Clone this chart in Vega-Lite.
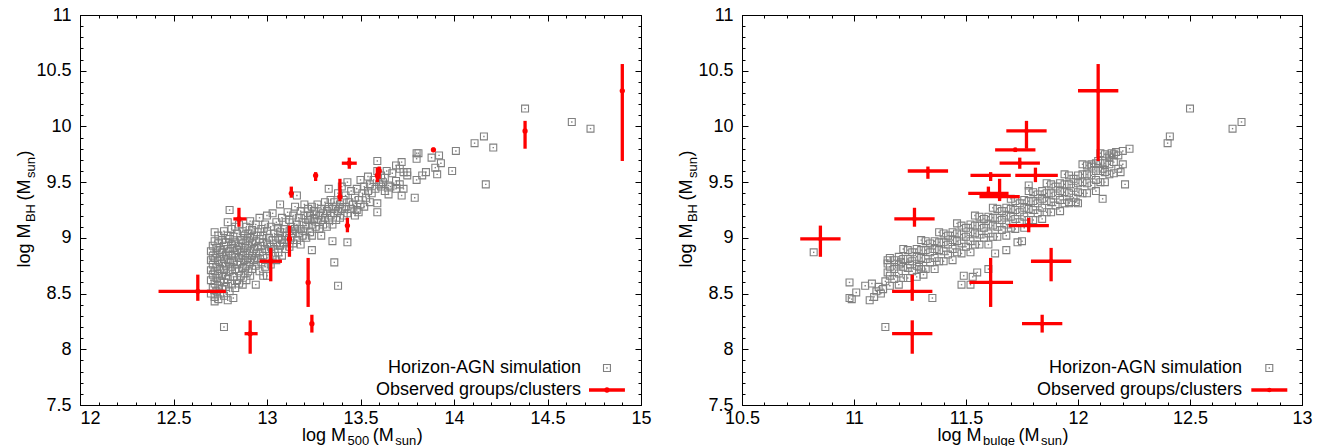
{
"$schema": "https://vega.github.io/schema/vega-lite/v6.json",
"background": "white",
"padding": {"left": 15, "top": 5, "right": 0, "bottom": 0},
"config": {
 "font": "Liberation Sans",
 "view": {"stroke": "black", "strokeWidth": 1},
 "axis": {"domainColor": "black", "domainWidth": 1, "tickColor": "black", "tickWidth": 1, "labelColor": "black", "labelFont": "Liberation Sans", "labelFontSize": 18, "grid": false, "labelFlush": false, "labelOverlap": false},
 "text": {"font": "Liberation Sans", "color": "black"}
},
"datasets": {
 "obs": [
  {"bh": 8.52, "bhlo": 8.435, "bhhi": 8.67, "m500": 12.63, "m500lo": 12.42, "m500hi": 12.78, "mb": 11.26, "mblo": 11.17, "mbhi": 11.35},
  {"bh": 9.17, "bhlo": 9.10, "bhhi": 9.27, "m500": 12.85, "m500lo": 12.82, "m500hi": 12.89, "mb": 11.27, "mblo": 11.18, "mbhi": 11.36},
  {"bh": 8.14, "bhlo": 7.96, "bhhi": 8.26, "m500": 12.91, "m500lo": 12.88, "m500hi": 12.95, "mb": 11.26, "mblo": 11.17, "mbhi": 11.35},
  {"bh": 8.79, "bhlo": 8.61, "bhhi": 8.91, "m500": 13.02, "m500lo": 12.96, "m500hi": 13.08, "mb": 11.88, "mblo": 11.79, "mbhi": 11.97},
  {"bh": 8.99, "bhlo": 8.83, "bhhi": 9.11, "m500": 13.12, "m500lo": 13.11, "m500hi": 13.13, "mb": 10.85, "mblo": 10.76, "mbhi": 10.94},
  {"bh": 9.40, "bhlo": 9.36, "bhhi": 9.46, "m500": 13.13, "m500lo": 13.125, "m500hi": 13.135, "mb": 11.60, "mblo": 11.51, "mbhi": 11.69},
  {"bh": 8.60, "bhlo": 8.38, "bhhi": 8.82, "m500": 13.22, "m500lo": 13.215, "m500hi": 13.225, "mb": 11.61, "mblo": 11.515, "mbhi": 11.71},
  {"bh": 8.23, "bhlo": 8.15, "bhhi": 8.31, "m500": 13.24, "m500lo": 13.235, "m500hi": 13.245, "mb": 11.84, "mblo": 11.75, "mbhi": 11.93},
  {"bh": 9.56, "bhlo": 9.51, "bhhi": 9.59, "m500": 13.26, "m500lo": 13.255, "m500hi": 13.265, "mb": 11.61, "mblo": 11.52, "mbhi": 11.70},
  {"bh": 9.37, "bhlo": 9.33, "bhhi": 9.53, "m500": 13.39, "m500lo": 13.385, "m500hi": 13.395, "mb": 11.65, "mblo": 11.56, "mbhi": 11.74},
  {"bh": 9.67, "bhlo": 9.62, "bhhi": 9.72, "m500": 13.44, "m500lo": 13.40, "m500hi": 13.48, "mb": 11.74, "mblo": 11.65, "mbhi": 11.83},
  {"bh": 9.11, "bhlo": 9.05, "bhhi": 9.18, "m500": 13.43, "m500lo": 13.42, "m500hi": 13.44, "mb": 11.78, "mblo": 11.69, "mbhi": 11.87},
  {"bh": 9.60, "bhlo": 9.53, "bhhi": 9.64, "m500": 13.60, "m500lo": 13.59, "m500hi": 13.61, "mb": 11.33, "mblo": 11.24, "mbhi": 11.42},
  {"bh": 9.56, "bhlo": 9.50, "bhhi": 9.63, "m500": 13.59, "m500lo": 13.58, "m500hi": 13.60, "mb": 11.81, "mblo": 11.72, "mbhi": 11.91},
  {"bh": 9.79, "bhlo": 9.77, "bhhi": 9.81, "m500": 13.89, "m500lo": 13.885, "m500hi": 13.895, "mb": 11.72, "mblo": 11.63, "mbhi": 11.81},
  {"bh": 9.96, "bhlo": 9.80, "bhhi": 10.05, "m500": 14.38, "m500lo": 14.375, "m500hi": 14.385, "mb": 11.77, "mblo": 11.68, "mbhi": 11.86},
  {"bh": 10.32, "bhlo": 9.69, "bhhi": 10.56, "m500": 14.90, "m500lo": 14.895, "m500hi": 14.905, "mb": 12.09, "mblo": 12.00, "mbhi": 12.18}
 ],
 "simL": [
  {"x":12.70,"y":8.50},{"x":12.70,"y":8.62},{"x":12.70,"y":8.71},{"x":12.70,"y":8.80},{"x":12.70,"y":8.88},
  {"x":12.71,"y":8.55},{"x":12.71,"y":8.67},{"x":12.71,"y":8.76},{"x":12.71,"y":8.84},{"x":12.71,"y":8.93},
  {"x":12.72,"y":8.47},{"x":12.72,"y":8.59},{"x":12.72,"y":8.70},{"x":12.72,"y":8.82},{"x":12.72,"y":8.97},{"x":12.72,"y":9.05},{"x":12.72,"y":8.43},
  {"x":12.73,"y":8.52},{"x":12.73,"y":8.64},{"x":12.73,"y":8.74},{"x":12.73,"y":8.86},{"x":12.73,"y":8.91},
  {"x":12.74,"y":8.45},{"x":12.74,"y":8.57},{"x":12.74,"y":8.68},{"x":12.74,"y":8.79},{"x":12.74,"y":8.95},{"x":12.74,"y":9.02},
  {"x":12.75,"y":8.50},{"x":12.75,"y":8.61},{"x":12.75,"y":8.72},{"x":12.75,"y":8.83},{"x":12.75,"y":8.89},
  {"x":12.76,"y":8.54},{"x":12.76,"y":8.66},{"x":12.76,"y":8.77},{"x":12.76,"y":8.87},{"x":12.76,"y":8.98},
  {"x":12.77,"y":8.48},{"x":12.77,"y":8.60},{"x":12.77,"y":8.71},{"x":12.77,"y":8.81},{"x":12.77,"y":8.93},{"x":12.77,"y":9.06},{"x":12.77,"y":8.20},
  {"x":12.78,"y":8.56},{"x":12.78,"y":8.66},{"x":12.78,"y":8.75},{"x":12.78,"y":8.85},{"x":12.78,"y":8.96},
  {"x":12.79,"y":8.44},{"x":12.79,"y":8.63},{"x":12.79,"y":8.80},{"x":12.79,"y":8.90},{"x":12.79,"y":9.02},{"x":12.79,"y":9.14},
  {"x":12.80,"y":8.52},{"x":12.80,"y":8.70},{"x":12.80,"y":8.78},{"x":12.80,"y":8.88},{"x":12.80,"y":8.99},{"x":12.80,"y":9.25},
  {"x":12.81,"y":8.59},{"x":12.81,"y":8.74},{"x":12.81,"y":8.84},{"x":12.81,"y":8.94},{"x":12.81,"y":9.08},
  {"x":12.82,"y":8.46},{"x":12.82,"y":8.65},{"x":12.82,"y":8.79},{"x":12.82,"y":8.91},{"x":12.82,"y":9.01},
  {"x":12.83,"y":8.55},{"x":12.83,"y":8.72},{"x":12.83,"y":8.86},{"x":12.83,"y":8.96},{"x":12.83,"y":9.10},
  {"x":12.84,"y":8.62},{"x":12.84,"y":8.76},{"x":12.84,"y":8.89},{"x":12.84,"y":9.04},
  {"x":12.85,"y":8.59},{"x":12.85,"y":8.70},{"x":12.85,"y":8.82},{"x":12.85,"y":8.93},{"x":12.85,"y":9.12},
  {"x":12.86,"y":8.66},{"x":12.86,"y":8.78},{"x":12.86,"y":8.87},{"x":12.86,"y":8.98},
  {"x":12.87,"y":8.58},{"x":12.87,"y":8.73},{"x":12.87,"y":8.84},{"x":12.87,"y":8.95},{"x":12.87,"y":9.06},
  {"x":12.88,"y":8.68},{"x":12.88,"y":8.80},{"x":12.88,"y":8.91},{"x":12.88,"y":9.02},
  {"x":12.89,"y":8.62},{"x":12.89,"y":8.75},{"x":12.89,"y":8.86},{"x":12.89,"y":8.97},{"x":12.89,"y":9.10},
  {"x":12.90,"y":8.70},{"x":12.90,"y":8.82},{"x":12.90,"y":8.93},{"x":12.90,"y":9.04},
  {"x":12.91,"y":8.66},{"x":12.91,"y":8.78},{"x":12.91,"y":8.88},{"x":12.91,"y":9.00},{"x":12.91,"y":9.15},
  {"x":12.92,"y":8.72},{"x":12.92,"y":8.84},{"x":12.92,"y":8.95},{"x":12.92,"y":9.07},
  {"x":12.93,"y":8.80},{"x":12.93,"y":8.90},{"x":12.93,"y":9.02},
  {"x":12.94,"y":8.58},{"x":12.94,"y":8.75},{"x":12.94,"y":8.86},{"x":12.94,"y":8.97},{"x":12.94,"y":9.12},
  {"x":12.95,"y":8.82},{"x":12.95,"y":8.92},{"x":12.95,"y":9.05},
  {"x":12.96,"y":8.70},{"x":12.96,"y":8.87},{"x":12.96,"y":8.99},{"x":12.96,"y":9.18},
  {"x":12.97,"y":8.78},{"x":12.97,"y":8.93},{"x":12.97,"y":9.08},
  {"x":12.98,"y":8.66},{"x":12.98,"y":8.84},{"x":12.98,"y":8.96},{"x":12.98,"y":9.02},
  {"x":12.99,"y":8.74},{"x":12.99,"y":8.90},{"x":12.99,"y":9.12},
  {"x":13.00,"y":8.66},{"x":13.00,"y":8.82},{"x":13.00,"y":8.95},{"x":13.00,"y":9.06},{"x":13.00,"y":9.20},
  {"x":13.01,"y":8.88},{"x":13.01,"y":9.00},
  {"x":13.02,"y":8.76},{"x":13.02,"y":8.92},{"x":13.02,"y":9.10},
  {"x":13.03,"y":8.84},{"x":13.03,"y":8.98},{"x":13.03,"y":9.22},
  {"x":13.04,"y":8.90},{"x":13.04,"y":9.04},
  {"x":13.05,"y":8.80},{"x":13.05,"y":8.95},{"x":13.05,"y":9.14},
  {"x":13.06,"y":8.87},{"x":13.06,"y":9.00},{"x":13.06,"y":9.09},
  {"x":13.07,"y":8.93},{"x":13.07,"y":9.05},{"x":13.07,"y":9.30},
  {"x":13.08,"y":8.84},{"x":13.08,"y":8.98},{"x":13.08,"y":9.18},
  {"x":13.09,"y":8.95},{"x":13.09,"y":9.08},
  {"x":13.10,"y":8.90},{"x":13.10,"y":9.02},{"x":13.10,"y":9.14},
  {"x":13.11,"y":8.98},{"x":13.11,"y":9.23},
  {"x":13.12,"y":8.92},{"x":13.12,"y":9.06},{"x":13.12,"y":9.16},
  {"x":13.13,"y":9.00},{"x":13.13,"y":9.10},
  {"x":13.14,"y":8.95},{"x":13.14,"y":9.04},{"x":13.14,"y":9.20},
  {"x":13.15,"y":9.08},{"x":13.15,"y":9.28},
  {"x":13.16,"y":8.98},{"x":13.16,"y":9.12},{"x":13.16,"y":9.38},
  {"x":13.17,"y":9.04},{"x":13.17,"y":9.18},
  {"x":13.18,"y":8.94},{"x":13.18,"y":9.08},{"x":13.18,"y":9.24},
  {"x":13.19,"y":9.02},{"x":13.19,"y":9.14},
  {"x":13.20,"y":9.06},{"x":13.20,"y":9.20},{"x":13.20,"y":9.30},
  {"x":13.21,"y":9.00},{"x":13.21,"y":9.11},
  {"x":13.22,"y":9.16},{"x":13.22,"y":9.26},
  {"x":13.23,"y":9.05},{"x":13.23,"y":9.20},
  {"x":13.24,"y":8.89},{"x":13.24,"y":9.02},{"x":13.24,"y":9.12},{"x":13.24,"y":9.28},
  {"x":13.25,"y":9.17},{"x":13.25,"y":9.24},
  {"x":13.26,"y":9.10},{"x":13.26,"y":9.21},
  {"x":13.27,"y":9.14},{"x":13.27,"y":9.30},
  {"x":13.28,"y":9.08},{"x":13.28,"y":9.20},
  {"x":13.29,"y":9.02},{"x":13.29,"y":9.16},{"x":13.29,"y":9.26},
  {"x":13.30,"y":9.12},{"x":13.30,"y":9.22},
  {"x":13.31,"y":9.18},{"x":13.31,"y":9.32},
  {"x":13.32,"y":9.10},{"x":13.32,"y":9.24},
  {"x":13.33,"y":9.16},{"x":13.33,"y":9.28},{"x":13.33,"y":9.44},
  {"x":13.34,"y":9.20},{"x":13.34,"y":9.34},
  {"x":13.35,"y":8.97},{"x":13.35,"y":9.12},{"x":13.35,"y":9.26},
  {"x":13.36,"y":8.78},{"x":13.36,"y":9.22},{"x":13.36,"y":9.32},
  {"x":13.37,"y":9.16},{"x":13.37,"y":9.28},
  {"x":13.38,"y":8.57},{"x":13.38,"y":9.24},{"x":13.38,"y":9.40},
  {"x":13.39,"y":9.18},{"x":13.39,"y":9.30},
  {"x":13.40,"y":9.26},{"x":13.40,"y":9.46},
  {"x":13.41,"y":9.20},{"x":13.41,"y":9.34},
  {"x":13.42,"y":9.28},{"x":13.42,"y":9.38},
  {"x":13.43,"y":8.96},{"x":13.43,"y":9.22},{"x":13.43,"y":9.50},
  {"x":13.44,"y":9.32},
  {"x":13.45,"y":9.26},{"x":13.45,"y":9.42},
  {"x":13.46,"y":9.30},
  {"x":13.47,"y":9.20},{"x":13.47,"y":9.36},
  {"x":13.48,"y":9.25},{"x":13.48,"y":9.44},
  {"x":13.49,"y":9.23},{"x":13.49,"y":9.34},
  {"x":13.50,"y":9.30},{"x":13.50,"y":9.52},
  {"x":13.51,"y":9.40},
  {"x":13.52,"y":9.28},{"x":13.52,"y":9.46},
  {"x":13.53,"y":9.36},
  {"x":13.54,"y":9.42},{"x":13.54,"y":9.55},
  {"x":13.55,"y":9.32},{"x":13.55,"y":9.48},
  {"x":13.56,"y":9.40},
  {"x":13.57,"y":9.52},
  {"x":13.58,"y":9.44},
  {"x":13.59,"y":9.23},{"x":13.59,"y":9.31},{"x":13.59,"y":9.69},{"x":13.59,"y":9.60},
  {"x":13.60,"y":9.48},
  {"x":13.61,"y":9.46},{"x":13.61,"y":9.56},
  {"x":13.62,"y":9.50},
  {"x":13.63,"y":9.42},{"x":13.63,"y":9.54},
  {"x":13.64,"y":9.60},
  {"x":13.65,"y":9.39},{"x":13.65,"y":9.47},
  {"x":13.66,"y":9.46},
  {"x":13.67,"y":9.58},
  {"x":13.69,"y":9.44},{"x":13.69,"y":9.51},{"x":13.69,"y":9.65},
  {"x":13.71,"y":9.48},{"x":13.71,"y":9.62},
  {"x":13.72,"y":9.38},{"x":13.72,"y":9.68},
  {"x":13.73,"y":9.44},{"x":13.73,"y":9.59},
  {"x":13.75,"y":9.56},{"x":13.75,"y":9.59},
  {"x":13.79,"y":9.36},
  {"x":13.80,"y":9.52},{"x":13.80,"y":9.71},{"x":13.80,"y":9.76},
  {"x":13.81,"y":9.76},
  {"x":13.83,"y":9.56},
  {"x":13.85,"y":9.59},
  {"x":13.88,"y":9.72},
  {"x":13.90,"y":9.63},
  {"x":13.91,"y":9.57},
  {"x":13.92,"y":9.74},
  {"x":13.93,"y":9.67},
  {"x":13.99,"y":9.60},
  {"x":14.01,"y":9.78},
  {"x":14.11,"y":9.85},
  {"x":14.16,"y":9.91},
  {"x":14.17,"y":9.48},
  {"x":14.21,"y":9.81},
  {"x":14.38,"y":10.16},
  {"x":14.63,"y":10.04},
  {"x":14.73,"y":9.98}
 ],
 "simR": [
  {"x":10.82,"y":8.87},{"x":10.98,"y":8.60},{"x":10.98,"y":8.46},{"x":10.99,"y":8.45},{"x":11.01,"y":8.51},{"x":11.05,"y":8.57},{"x":11.07,"y":8.44},{"x":11.08,"y":8.59},{"x":11.09,"y":8.47},{"x":11.11,"y":8.56},{"x":11.13,"y":8.54},{"x":11.14,"y":8.20},{"x":11.15,"y":8.80},{"x":11.15,"y":8.77},{"x":11.15,"y":8.69},{"x":11.14,"y":8.61},{"x":11.12,"y":8.50},{"x":11.10,"y":8.52},
  {"x":11.16,"y":8.57},{"x":11.16,"y":8.66},{"x":11.16,"y":8.74},{"x":11.16,"y":8.82},
  {"x":11.18,"y":8.63},{"x":11.18,"y":8.72},{"x":11.18,"y":8.80},
  {"x":11.20,"y":8.58},{"x":11.20,"y":8.68},{"x":11.20,"y":8.76},{"x":11.20,"y":8.83},
  {"x":11.22,"y":8.64},{"x":11.22,"y":8.74},{"x":11.22,"y":8.81},{"x":11.22,"y":8.90},
  {"x":11.24,"y":8.64},{"x":11.24,"y":8.73},{"x":11.24,"y":8.81},{"x":11.24,"y":8.89},
  {"x":11.26,"y":8.70},{"x":11.26,"y":8.79},{"x":11.26,"y":8.87},
  {"x":11.28,"y":8.65},{"x":11.28,"y":8.75},{"x":11.28,"y":8.83},{"x":11.28,"y":8.90},
  {"x":11.30,"y":8.72},{"x":11.30,"y":8.82},{"x":11.30,"y":8.89},{"x":11.30,"y":8.98},
  {"x":11.32,"y":8.72},{"x":11.32,"y":8.81},{"x":11.32,"y":8.89},{"x":11.32,"y":8.97},
  {"x":11.34,"y":8.78},{"x":11.34,"y":8.87},{"x":11.34,"y":8.95},
  {"x":11.36,"y":8.72},{"x":11.36,"y":8.82},{"x":11.36,"y":8.90},{"x":11.36,"y":8.97},
  {"x":11.38,"y":8.79},{"x":11.38,"y":8.89},{"x":11.38,"y":8.96},{"x":11.38,"y":9.05},
  {"x":11.40,"y":8.79},{"x":11.40,"y":8.88},{"x":11.40,"y":8.96},{"x":11.40,"y":9.04},
  {"x":11.42,"y":8.85},{"x":11.42,"y":8.94},{"x":11.42,"y":9.02},
  {"x":11.44,"y":8.80},{"x":11.44,"y":8.90},{"x":11.44,"y":8.98},{"x":11.44,"y":9.05},
  {"x":11.46,"y":8.87},{"x":11.46,"y":8.97},{"x":11.46,"y":9.04},{"x":11.46,"y":9.13},
  {"x":11.48,"y":8.86},{"x":11.48,"y":8.95},{"x":11.48,"y":9.03},{"x":11.48,"y":9.11},
  {"x":11.50,"y":8.92},{"x":11.50,"y":9.01},{"x":11.50,"y":9.09},
  {"x":11.52,"y":8.87},{"x":11.52,"y":8.97},{"x":11.52,"y":9.05},{"x":11.52,"y":9.12},
  {"x":11.54,"y":8.94},{"x":11.54,"y":9.04},{"x":11.54,"y":9.11},{"x":11.54,"y":9.20},
  {"x":11.56,"y":8.94},{"x":11.56,"y":9.03},{"x":11.56,"y":9.11},{"x":11.56,"y":9.19},
  {"x":11.58,"y":9.00},{"x":11.58,"y":9.09},{"x":11.58,"y":9.17},
  {"x":11.60,"y":8.94},{"x":11.60,"y":9.04},{"x":11.60,"y":9.12},{"x":11.60,"y":9.19},
  {"x":11.62,"y":9.01},{"x":11.62,"y":9.11},{"x":11.62,"y":9.18},{"x":11.62,"y":9.27},
  {"x":11.64,"y":9.01},{"x":11.64,"y":9.10},{"x":11.64,"y":9.18},{"x":11.64,"y":9.26},
  {"x":11.66,"y":9.07},{"x":11.66,"y":9.16},{"x":11.66,"y":9.24},
  {"x":11.68,"y":9.02},{"x":11.68,"y":9.12},{"x":11.68,"y":9.20},{"x":11.68,"y":9.27},
  {"x":11.70,"y":9.09},{"x":11.70,"y":9.19},{"x":11.70,"y":9.26},{"x":11.70,"y":9.35},
  {"x":11.72,"y":9.08},{"x":11.72,"y":9.17},{"x":11.72,"y":9.25},{"x":11.72,"y":9.33},
  {"x":11.74,"y":9.14},{"x":11.74,"y":9.23},{"x":11.74,"y":9.31},
  {"x":11.76,"y":9.09},{"x":11.76,"y":9.19},{"x":11.76,"y":9.27},{"x":11.76,"y":9.34},
  {"x":11.78,"y":9.16},{"x":11.78,"y":9.26},{"x":11.78,"y":9.33},{"x":11.78,"y":9.42},
  {"x":11.80,"y":9.16},{"x":11.80,"y":9.25},{"x":11.80,"y":9.33},{"x":11.80,"y":9.41},
  {"x":11.82,"y":9.22},{"x":11.82,"y":9.31},{"x":11.82,"y":9.39},
  {"x":11.84,"y":9.17},{"x":11.84,"y":9.27},{"x":11.84,"y":9.35},{"x":11.84,"y":9.42},
  {"x":11.86,"y":9.23},{"x":11.86,"y":9.33},{"x":11.86,"y":9.40},{"x":11.86,"y":9.49},
  {"x":11.88,"y":9.23},{"x":11.88,"y":9.32},{"x":11.88,"y":9.40},{"x":11.88,"y":9.48},
  {"x":11.90,"y":9.29},{"x":11.90,"y":9.38},{"x":11.90,"y":9.46},
  {"x":11.92,"y":9.24},{"x":11.92,"y":9.34},{"x":11.92,"y":9.42},{"x":11.92,"y":9.49},
  {"x":11.94,"y":9.31},{"x":11.94,"y":9.41},{"x":11.94,"y":9.48},{"x":11.94,"y":9.57},
  {"x":11.96,"y":9.31},{"x":11.96,"y":9.40},{"x":11.96,"y":9.48},{"x":11.96,"y":9.56},
  {"x":11.98,"y":9.36},{"x":11.98,"y":9.45},{"x":11.98,"y":9.53},
  {"x":12.00,"y":9.31},{"x":12.00,"y":9.41},{"x":12.00,"y":9.49},{"x":12.00,"y":9.56},
  {"x":12.02,"y":9.40},{"x":12.02,"y":9.50},{"x":12.02,"y":9.57},{"x":12.02,"y":9.66},
  {"x":12.04,"y":9.40},{"x":12.04,"y":9.49},{"x":12.04,"y":9.57},{"x":12.04,"y":9.65},
  {"x":12.06,"y":9.47},{"x":12.06,"y":9.56},{"x":12.06,"y":9.64},
  {"x":12.08,"y":9.42},{"x":12.08,"y":9.52},{"x":12.08,"y":9.60},{"x":12.08,"y":9.67},
  {"x":12.10,"y":9.50},{"x":12.10,"y":9.60},{"x":12.10,"y":9.67},{"x":12.10,"y":9.76},
  {"x":12.12,"y":9.50},{"x":12.12,"y":9.59},{"x":12.12,"y":9.67},{"x":12.12,"y":9.75},
  {"x":12.14,"y":9.57},{"x":12.14,"y":9.66},{"x":12.14,"y":9.74},
  {"x":12.16,"y":9.58},{"x":12.16,"y":9.68},{"x":12.16,"y":9.75},
  {"x":12.18,"y":9.62},{"x":12.18,"y":9.74},
  {"x":12.20,"y":9.66},{"x":12.20,"y":9.78},
  {"x":11.21,"y":8.78},{"x":11.25,"y":8.76},{"x":11.29,"y":8.74},{"x":11.31,"y":8.67},{"x":11.35,"y":8.46},
  {"x":11.48,"y":8.58},{"x":11.52,"y":8.58},{"x":11.49,"y":8.66},{"x":11.53,"y":8.65},{"x":11.55,"y":8.69},{"x":11.60,"y":8.72},
  {"x":11.63,"y":8.86},{"x":11.68,"y":8.89},{"x":11.73,"y":8.96},{"x":11.75,"y":8.97},{"x":11.78,"y":9.47},
  {"x":11.96,"y":9.32},{"x":11.99,"y":9.32},{"x":12.11,"y":9.35},{"x":12.15,"y":9.76},{"x":12.21,"y":9.48},{"x":12.23,"y":9.80},
  {"x":12.17,"y":9.77},{"x":12.19,"y":9.59},{"x":12.06,"y":9.66},{"x":12.09,"y":9.69},{"x":12.14,"y":9.72},{"x":12.11,"y":9.62},
  {"x":12.40,"y":9.85},{"x":12.41,"y":9.91},{"x":12.50,"y":10.16},{"x":12.69,"y":9.98},{"x":12.73,"y":10.04}
 ]
},
"spacing": 101,
"bounds": "flush",
"hconcat": [
 {
  "width": 561, "height": 390,
  "resolve": {"axis": {"x": "independent", "y": "independent"}},
  "layer": [
   {
    "data": {"name": "simL"},
    "mark": {"type": "point", "shape": "square", "filled": false, "size": 48, "strokeWidth": 1.1, "color": "#808080", "opacity": 1},
    "encoding": {
     "x": {"field": "x", "type": "quantitative", "scale": {"domain": [12, 15], "nice": false, "zero": false},
      "axis": {"orient": "bottom", "title": null, "values": [12,12.1,12.2,12.3,12.4,12.5,12.6,12.7,12.8,12.9,13,13.1,13.2,13.3,13.4,13.5,13.6,13.7,13.8,13.9,14,14.1,14.2,14.3,14.4,14.5,14.6,14.7,14.8,14.9,15],
       "labelExpr": "(abs(datum.value*2-round(datum.value*2))<0.01) ? ''+datum.value : ''",
       "labelPadding": 10,
       "labelAlign": {"condition": {"test": "datum.value == 12", "value": "left"}, "value": "center"},
       "tickSize": {"condition": {"test": "abs(datum.value*2-round(datum.value*2))<0.01", "value": -6}, "value": -3}}},
     "y": {"field": "y", "type": "quantitative", "scale": {"domain": [7.5, 11], "nice": false, "zero": false},
      "axis": {"orient": "left", "title": null, "values": [7.5,7.6,7.7,7.8,7.9,8,8.1,8.2,8.3,8.4,8.5,8.6,8.7,8.8,8.9,9,9.1,9.2,9.3,9.4,9.5,9.6,9.7,9.8,9.9,10,10.1,10.2,10.3,10.4,10.5,10.6,10.7,10.8,10.9,11],
       "labelExpr": "(abs(datum.value*2-round(datum.value*2))<0.01) ? ''+datum.value : ''",
       "labelPadding": 15,
       "tickSize": {"condition": {"test": "abs(datum.value*2-round(datum.value*2))<0.01", "value": -6}, "value": -3}}}
    }
   },
   {
    "data": {"name": "simL"},
    "mark": {"type": "square", "size": 2, "color": "#808080", "opacity": 1},
    "encoding": {"x": {"field": "x", "type": "quantitative", "axis": null}, "y": {"field": "y", "type": "quantitative", "axis": null}}
   },
   {
    "data": {"name": "obs"},
    "mark": {"type": "rule", "strokeWidth": 3.3, "color": "#ff0000"},
    "encoding": {
     "x": {"field": "m500", "type": "quantitative",
      "axis": {"orient": "top", "title": null, "labels": false, "values": [12,12.1,12.2,12.3,12.4,12.5,12.6,12.7,12.8,12.9,13,13.1,13.2,13.3,13.4,13.5,13.6,13.7,13.8,13.9,14,14.1,14.2,14.3,14.4,14.5,14.6,14.7,14.8,14.9,15],
       "tickSize": {"condition": {"test": "abs(datum.value*2-round(datum.value*2))<0.01", "value": -6}, "value": -3}}},
     "y": {"field": "bhlo", "type": "quantitative",
      "axis": {"orient": "right", "title": null, "labels": false, "values": [7.5,7.6,7.7,7.8,7.9,8,8.1,8.2,8.3,8.4,8.5,8.6,8.7,8.8,8.9,9,9.1,9.2,9.3,9.4,9.5,9.6,9.7,9.8,9.9,10,10.1,10.2,10.3,10.4,10.5,10.6,10.7,10.8,10.9,11],
       "tickSize": {"condition": {"test": "abs(datum.value*2-round(datum.value*2))<0.01", "value": -6}, "value": -3}}},
     "y2": {"field": "bhhi"}
    }
   },
   {
    "data": {"name": "obs"},
    "mark": {"type": "rule", "strokeWidth": 3.3, "color": "#ff0000"},
    "encoding": {"x": {"field": "m500lo", "type": "quantitative", "axis": null}, "x2": {"field": "m500hi"}, "y": {"field": "bh", "type": "quantitative", "axis": null}}
   },
   {
    "data": {"name": "obs"},
    "mark": {"type": "circle", "size": 28, "color": "#ff0000", "opacity": 1},
    "encoding": {"x": {"field": "m500", "type": "quantitative", "axis": null}, "y": {"field": "bh", "type": "quantitative", "axis": null}}
   },
   {"data": {"values": [{}]}, "mark": {"type": "text", "text": "Horizon-AGN simulation", "fontSize": 18, "align": "right", "baseline": "middle"}, "encoding": {"x": {"datum": 14.6791, "type": "quantitative", "axis": null}, "y": {"datum": 7.8321, "type": "quantitative", "axis": null}}},
   {"data": {"values": [{}]}, "mark": {"type": "text", "text": "Observed groups/clusters", "fontSize": 18, "align": "right", "baseline": "middle"}, "encoding": {"x": {"datum": 14.6791, "type": "quantitative", "axis": null}, "y": {"datum": 7.6347, "type": "quantitative", "axis": null}}},
   {"data": {"values": [{}]}, "mark": {"type": "point", "shape": "square", "filled": false, "size": 48, "strokeWidth": 1.1, "color": "#808080", "opacity": 1}, "encoding": {"x": {"datum": 14.818, "type": "quantitative", "axis": null}, "y": {"datum": 7.8321, "type": "quantitative", "axis": null}}},
   {"data": {"values": [{}]}, "mark": {"type": "square", "size": 2, "color": "#808080", "opacity": 1}, "encoding": {"x": {"datum": 14.818, "type": "quantitative", "axis": null}, "y": {"datum": 7.8321, "type": "quantitative", "axis": null}}},
   {"data": {"values": [{}]}, "mark": {"type": "rule", "strokeWidth": 3.3, "color": "#ff0000"}, "encoding": {"x": {"datum": 14.722, "type": "quantitative", "axis": null}, "x2": {"datum": 14.914}, "y": {"datum": 7.6347, "type": "quantitative", "axis": null}}},
   {"data": {"values": [{}]}, "mark": {"type": "circle", "size": 28, "color": "#ff0000", "opacity": 1}, "encoding": {"x": {"datum": 14.818, "type": "quantitative", "axis": null}, "y": {"datum": 7.6347, "type": "quantitative", "axis": null}}},
   {"data": {"values": [{}]}, "mark": {"type": "text", "text": "log M", "fontSize": 18, "align": "left", "baseline": "alphabetic", "yOffset": 36}, "encoding": {"x": {"datum": 13.1877, "type": "quantitative", "axis": null}, "y": {"datum": 7.5, "type": "quantitative", "axis": null}}},
   {"data": {"values": [{}]}, "mark": {"type": "text", "text": "500", "fontSize": 13, "align": "left", "baseline": "alphabetic", "yOffset": 40}, "encoding": {"x": {"datum": 13.431, "type": "quantitative", "axis": null}, "y": {"datum": 7.5, "type": "quantitative", "axis": null}}},
   {"data": {"values": [{}]}, "mark": {"type": "text", "text": "(M", "fontSize": 18, "align": "left", "baseline": "alphabetic", "yOffset": 36}, "encoding": {"x": {"datum": 13.5658, "type": "quantitative", "axis": null}, "y": {"datum": 7.5, "type": "quantitative", "axis": null}}},
   {"data": {"values": [{}]}, "mark": {"type": "text", "text": "sun", "fontSize": 13, "align": "left", "baseline": "alphabetic", "yOffset": 40}, "encoding": {"x": {"datum": 13.6861, "type": "quantitative", "axis": null}, "y": {"datum": 7.5, "type": "quantitative", "axis": null}}},
   {"data": {"values": [{}]}, "mark": {"type": "text", "text": ")", "fontSize": 18, "align": "left", "baseline": "alphabetic", "yOffset": 36}, "encoding": {"x": {"datum": 13.801, "type": "quantitative", "axis": null}, "y": {"datum": 7.5, "type": "quantitative", "axis": null}}},
   {"data": {"values": [{}]}, "mark": {"type": "text", "text": "log M", "fontSize": 18, "angle": 270, "align": "left", "baseline": "alphabetic", "xOffset": -50}, "encoding": {"x": {"datum": 12, "type": "quantitative", "axis": null}, "y": {"datum": 8.7331, "type": "quantitative", "axis": null}}},
   {"data": {"values": [{}]}, "mark": {"type": "text", "text": "BH", "fontSize": 13, "angle": 270, "align": "left", "baseline": "alphabetic", "xOffset": -45}, "encoding": {"x": {"datum": 12, "type": "quantitative", "axis": null}, "y": {"datum": 9.1415, "type": "quantitative", "axis": null}}},
   {"data": {"values": [{}]}, "mark": {"type": "text", "text": "(M", "fontSize": 18, "angle": 270, "align": "left", "baseline": "alphabetic", "xOffset": -50}, "encoding": {"x": {"datum": 12, "type": "quantitative", "axis": null}, "y": {"datum": 9.3353, "type": "quantitative", "axis": null}}},
   {"data": {"values": [{}]}, "mark": {"type": "text", "text": "sun", "fontSize": 13, "angle": 270, "align": "left", "baseline": "alphabetic", "xOffset": -45}, "encoding": {"x": {"datum": 12, "type": "quantitative", "axis": null}, "y": {"datum": 9.5372, "type": "quantitative", "axis": null}}},
   {"data": {"values": [{}]}, "mark": {"type": "text", "text": ")", "fontSize": 18, "angle": 270, "align": "left", "baseline": "alphabetic", "xOffset": -50}, "encoding": {"x": {"datum": 12, "type": "quantitative", "axis": null}, "y": {"datum": 9.7302, "type": "quantitative", "axis": null}}}
  ]
 },
 {
  "width": 560, "height": 390,
  "resolve": {"axis": {"x": "independent", "y": "independent"}},
  "layer": [
   {
    "data": {"name": "simR"},
    "mark": {"type": "point", "shape": "square", "filled": false, "size": 48, "strokeWidth": 1.1, "color": "#808080", "opacity": 1},
    "encoding": {
     "x": {"field": "x", "type": "quantitative", "scale": {"domain": [10.5, 13], "nice": false, "zero": false},
      "axis": {"orient": "bottom", "title": null, "values": [10.5,10.6,10.7,10.8,10.9,11,11.1,11.2,11.3,11.4,11.5,11.6,11.7,11.8,11.9,12,12.1,12.2,12.3,12.4,12.5,12.6,12.7,12.8,12.9,13],
       "labelExpr": "(abs(datum.value*2-round(datum.value*2))<0.01) ? ''+datum.value : ''",
       "labelPadding": 10,
       "tickSize": {"condition": {"test": "abs(datum.value*2-round(datum.value*2))<0.01", "value": -6}, "value": -3}}},
     "y": {"field": "y", "type": "quantitative", "scale": {"domain": [7.5, 11], "nice": false, "zero": false},
      "axis": {"orient": "left", "title": null, "values": [7.5,7.6,7.7,7.8,7.9,8,8.1,8.2,8.3,8.4,8.5,8.6,8.7,8.8,8.9,9,9.1,9.2,9.3,9.4,9.5,9.6,9.7,9.8,9.9,10,10.1,10.2,10.3,10.4,10.5,10.6,10.7,10.8,10.9,11],
       "labelExpr": "(abs(datum.value*2-round(datum.value*2))<0.01) ? ''+datum.value : ''",
       "labelPadding": 15,
       "tickSize": {"condition": {"test": "abs(datum.value*2-round(datum.value*2))<0.01", "value": -6}, "value": -3}}}
    }
   },
   {
    "data": {"name": "simR"},
    "mark": {"type": "square", "size": 2, "color": "#808080", "opacity": 1},
    "encoding": {"x": {"field": "x", "type": "quantitative", "axis": null}, "y": {"field": "y", "type": "quantitative", "axis": null}}
   },
   {
    "data": {"name": "obs"},
    "mark": {"type": "rule", "strokeWidth": 3.3, "color": "#ff0000"},
    "encoding": {
     "x": {"field": "mb", "type": "quantitative",
      "axis": {"orient": "top", "title": null, "labels": false, "values": [10.5,10.6,10.7,10.8,10.9,11,11.1,11.2,11.3,11.4,11.5,11.6,11.7,11.8,11.9,12,12.1,12.2,12.3,12.4,12.5,12.6,12.7,12.8,12.9,13],
       "tickSize": {"condition": {"test": "abs(datum.value*2-round(datum.value*2))<0.01", "value": -6}, "value": -3}}},
     "y": {"field": "bhlo", "type": "quantitative",
      "axis": {"orient": "right", "title": null, "labels": false, "values": [7.5,7.6,7.7,7.8,7.9,8,8.1,8.2,8.3,8.4,8.5,8.6,8.7,8.8,8.9,9,9.1,9.2,9.3,9.4,9.5,9.6,9.7,9.8,9.9,10,10.1,10.2,10.3,10.4,10.5,10.6,10.7,10.8,10.9,11],
       "tickSize": {"condition": {"test": "abs(datum.value*2-round(datum.value*2))<0.01", "value": -6}, "value": -3}}},
     "y2": {"field": "bhhi"}
    }
   },
   {
    "data": {"name": "obs"},
    "mark": {"type": "rule", "strokeWidth": 3.3, "color": "#ff0000"},
    "encoding": {"x": {"field": "mblo", "type": "quantitative", "axis": null}, "x2": {"field": "mbhi"}, "y": {"field": "bh", "type": "quantitative", "axis": null}}
   },
   {
    "data": {"name": "obs"},
    "mark": {"type": "circle", "size": 20, "color": "#ff0000", "opacity": 1},
    "encoding": {"x": {"field": "mb", "type": "quantitative", "axis": null}, "y": {"field": "bh", "type": "quantitative", "axis": null}}
   },
   {"data": {"values": [{}]}, "mark": {"type": "text", "text": "Horizon-AGN simulation", "fontSize": 18, "align": "right", "baseline": "middle"}, "encoding": {"x": {"datum": 12.7321, "type": "quantitative", "axis": null}, "y": {"datum": 7.8321, "type": "quantitative", "axis": null}}},
   {"data": {"values": [{}]}, "mark": {"type": "text", "text": "Observed groups/clusters", "fontSize": 18, "align": "right", "baseline": "middle"}, "encoding": {"x": {"datum": 12.7321, "type": "quantitative", "axis": null}, "y": {"datum": 7.6347, "type": "quantitative", "axis": null}}},
   {"data": {"values": [{}]}, "mark": {"type": "point", "shape": "square", "filled": false, "size": 48, "strokeWidth": 1.1, "color": "#808080", "opacity": 1}, "encoding": {"x": {"datum": 12.854, "type": "quantitative", "axis": null}, "y": {"datum": 7.8321, "type": "quantitative", "axis": null}}},
   {"data": {"values": [{}]}, "mark": {"type": "square", "size": 2, "color": "#808080", "opacity": 1}, "encoding": {"x": {"datum": 12.854, "type": "quantitative", "axis": null}, "y": {"datum": 7.8321, "type": "quantitative", "axis": null}}},
   {"data": {"values": [{}]}, "mark": {"type": "rule", "strokeWidth": 3.3, "color": "#ff0000"}, "encoding": {"x": {"datum": 12.7737, "type": "quantitative", "axis": null}, "x2": {"datum": 12.9344}, "y": {"datum": 7.6347, "type": "quantitative", "axis": null}}},
   {"data": {"values": [{}]}, "mark": {"type": "circle", "size": 20, "color": "#ff0000", "opacity": 1}, "encoding": {"x": {"datum": 12.854, "type": "quantitative", "axis": null}, "y": {"datum": 7.6347, "type": "quantitative", "axis": null}}},
   {"data": {"values": [{}]}, "mark": {"type": "text", "text": "log M", "fontSize": 18, "align": "left", "baseline": "alphabetic", "yOffset": 36}, "encoding": {"x": {"datum": 11.3732, "type": "quantitative", "axis": null}, "y": {"datum": 7.5, "type": "quantitative", "axis": null}}},
   {"data": {"values": [{}]}, "mark": {"type": "text", "text": "bulge", "fontSize": 13, "align": "left", "baseline": "alphabetic", "yOffset": 40}, "encoding": {"x": {"datum": 11.5763, "type": "quantitative", "axis": null}, "y": {"datum": 7.5, "type": "quantitative", "axis": null}}},
   {"data": {"values": [{}]}, "mark": {"type": "text", "text": "(M", "fontSize": 18, "align": "left", "baseline": "alphabetic", "yOffset": 36}, "encoding": {"x": {"datum": 11.7339, "type": "quantitative", "axis": null}, "y": {"datum": 7.5, "type": "quantitative", "axis": null}}},
   {"data": {"values": [{}]}, "mark": {"type": "text", "text": "sun", "fontSize": 13, "align": "left", "baseline": "alphabetic", "yOffset": 40}, "encoding": {"x": {"datum": 11.8344, "type": "quantitative", "axis": null}, "y": {"datum": 7.5, "type": "quantitative", "axis": null}}},
   {"data": {"values": [{}]}, "mark": {"type": "text", "text": ")", "fontSize": 18, "align": "left", "baseline": "alphabetic", "yOffset": 36}, "encoding": {"x": {"datum": 11.9303, "type": "quantitative", "axis": null}, "y": {"datum": 7.5, "type": "quantitative", "axis": null}}},
   {"data": {"values": [{}]}, "mark": {"type": "text", "text": "log M", "fontSize": 18, "angle": 270, "align": "left", "baseline": "alphabetic", "xOffset": -50}, "encoding": {"x": {"datum": 10.5, "type": "quantitative", "axis": null}, "y": {"datum": 8.7331, "type": "quantitative", "axis": null}}},
   {"data": {"values": [{}]}, "mark": {"type": "text", "text": "BH", "fontSize": 13, "angle": 270, "align": "left", "baseline": "alphabetic", "xOffset": -45}, "encoding": {"x": {"datum": 10.5, "type": "quantitative", "axis": null}, "y": {"datum": 9.1415, "type": "quantitative", "axis": null}}},
   {"data": {"values": [{}]}, "mark": {"type": "text", "text": "(M", "fontSize": 18, "angle": 270, "align": "left", "baseline": "alphabetic", "xOffset": -50}, "encoding": {"x": {"datum": 10.5, "type": "quantitative", "axis": null}, "y": {"datum": 9.3353, "type": "quantitative", "axis": null}}},
   {"data": {"values": [{}]}, "mark": {"type": "text", "text": "sun", "fontSize": 13, "angle": 270, "align": "left", "baseline": "alphabetic", "xOffset": -45}, "encoding": {"x": {"datum": 10.5, "type": "quantitative", "axis": null}, "y": {"datum": 9.5372, "type": "quantitative", "axis": null}}},
   {"data": {"values": [{}]}, "mark": {"type": "text", "text": ")", "fontSize": 18, "angle": 270, "align": "left", "baseline": "alphabetic", "xOffset": -50}, "encoding": {"x": {"datum": 10.5, "type": "quantitative", "axis": null}, "y": {"datum": 9.7302, "type": "quantitative", "axis": null}}}
  ]
 }
]
}
